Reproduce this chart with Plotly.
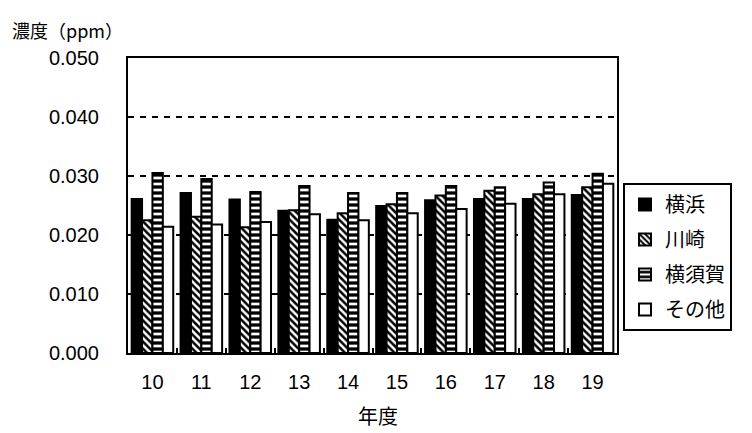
import plotly.graph_objects as go

years = ["10", "11", "12", "13", "14", "15", "16", "17", "18", "19"]
yokohama = [0.0261, 0.0271, 0.0260, 0.0241, 0.0226, 0.0249, 0.0259, 0.0261, 0.0261, 0.0268]
kawasaki = [0.0225, 0.0231, 0.0213, 0.0242, 0.0237, 0.0252, 0.0267, 0.0275, 0.0269, 0.0281]
yokosuka = [0.0305, 0.0295, 0.0273, 0.0283, 0.0271, 0.0271, 0.0283, 0.0281, 0.0289, 0.0304]
others = [0.0214, 0.0218, 0.0222, 0.0235, 0.0225, 0.0237, 0.0244, 0.0253, 0.0269, 0.0287]
y_ticks = [0.0, 0.01, 0.02, 0.03, 0.04, 0.05]
y_labels = ["0.000", "0.010", "0.020", "0.030", "0.040", "0.050"]

FONT = "Liberation Sans, Noto Sans CJK JP, sans-serif"
JFONT = "Noto Sans CJK JP, sans-serif"

# figure is offset by the page's 8px body margin
W, H = 744, 425
L, R, T, B = 120, 135, 50, 80
PW, PH = W - L - R, H - T - B

fig = go.Figure()
line = dict(color="black", width=2)
fig.add_trace(go.Bar(name="横浜", x=years, y=yokohama, legendgroup="a",
                     marker=dict(color="black", line=line)))
fig.add_trace(go.Bar(name="川崎", x=years, y=kawasaki, legendgroup="b",
                     marker=dict(color="white", line=line,
                                 pattern=dict(shape="\\", fgcolor="black", bgcolor="white",
                                              size=5, solidity=0.5, fillmode="replace"))))
fig.add_trace(go.Bar(name="横須賀", x=years, y=yokosuka, legendgroup="c",
                     marker=dict(color="white", line=line,
                                 pattern=dict(shape="-", fgcolor="black", bgcolor="white",
                                              size=6, solidity=0.55, fillmode="replace"))))
fig.add_trace(go.Bar(name="その他", x=years, y=others, legendgroup="d",
                     marker=dict(color="white", line=line)))

fig.update_layout(
    width=W, height=H,
    margin=dict(l=L, r=R, t=T, b=B, autoexpand=False),
    paper_bgcolor="white", plot_bgcolor="white",
    barmode="group", bargap=0.15, bargroupgap=0,
    font=dict(family=FONT, size=20, color="black"),
    showlegend=True,
    legend=dict(x=(615 - L) / PW, xanchor="left", y=(H - B - 175) / PH, yanchor="top",
                bordercolor="black", borderwidth=2, bgcolor="white",
                font=dict(family=JFONT, size=20, color="black"),
                itemwidth=30, tracegroupgap=6, traceorder="grouped",
                entrywidth=110, entrywidthmode="pixels"),
    xaxis=dict(showline=True, linecolor="black", linewidth=2, mirror=True,
               ticks="inside", ticklen=5, tickwidth=2, tickcolor="black",
               tickson="boundaries", showgrid=False, ticklabelstandoff=10,
               tickfont=dict(family=FONT, size=20)),
    yaxis=dict(range=[0, 0.05], tickvals=y_ticks, ticktext=y_labels,
               showline=True, linecolor="black", linewidth=2, mirror=True,
               showgrid=True, gridcolor="black", gridwidth=2, griddash="6px,6px",
               zeroline=False, ticks="", ticklabelstandoff=23,
               tickfont=dict(family=FONT, size=20)),
    annotations=[
        dict(text="濃度（ppm）", xref="paper", yref="paper", x=(2 - L) / PW, y=(H - B - 22) / PH,
             xanchor="left", yanchor="middle", showarrow=False,
             font=dict(family=JFONT, size=18, color="black")),
        dict(text="年度", xref="paper", yref="paper", x=(370 - L) / PW, y=(H - B - 407) / PH,
             xanchor="center", yanchor="middle", showarrow=False,
             font=dict(family=JFONT, size=20, color="black")),
    ],
)

fig.write_html("out.html")
